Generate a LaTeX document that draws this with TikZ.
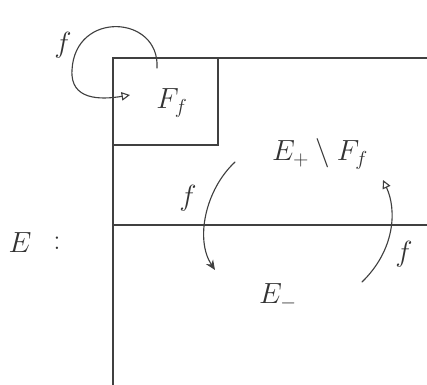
\documentclass[tikz,border=0pt]{standalone}
\usepackage{amsmath,amsfonts,amssymb}
\usetikzlibrary{arrows.meta}

\begin{document}
\begin{tikzpicture}[
  x=0.025cm, y=-0.025cm,
  every node/.style={font=\huge, inner sep=1pt, text=black!80},
  map/.style={draw=black!75, thick, line cap=round},
  region/.style={draw=black!75, thick}
]
\useasboundingbox (0,0) rectangle (427,385);

% the set E and its parts
\draw[region] (427,58) -- (113,58) -- (113,385);
\draw[region] (113,145) -- (218,145) -- (218,58);
\draw[region] (113,225) -- (427,225);

\node (E) at (20,243) {$E$};
\node (colon) at (57,243) {$:$};
\node (Ff) at (172,103) {$F_f$};
\node (Eplus) at (320,154) {$E_+\setminus F_f$};
\node (Eminus) at (278,297) {$E_-$};

% the maps
\coordinate (loopA) at (157,68);
\coordinate (loopB) at (130,95);
\draw[map, -{Triangle[open, length=6pt, width=6pt]}] (loopA) .. controls (160,15) and (75,10) .. (72,70)
  .. controls (70,100) and (100,100) .. (loopB);
\node (fa) at (63,45) {$f$};

\coordinate (downA) at (235,162);
\coordinate (downB) at (215,270);
\draw[map, -{Stealth[length=7pt, width=6pt]}] (downA) .. controls (205,190) and (195,240) .. (downB);
\node (fb) at (188,198) {$f$};

\coordinate (upA) at (362,282);
\coordinate (upB) at (383,180);
\draw[map, -{Triangle[open, length=6pt, width=6pt]}] (upA) .. controls (395,250) and (397,210) .. (upB);
\node (fc) at (404,254) {$f$};
\end{tikzpicture}
\end{document}
